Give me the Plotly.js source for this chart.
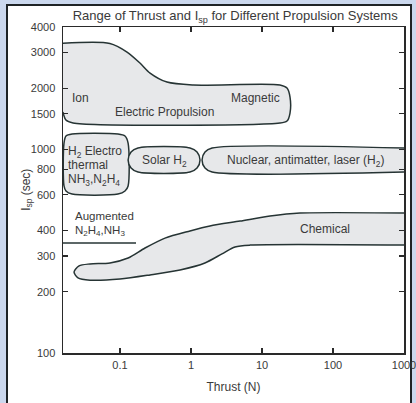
<!DOCTYPE html>
<html>
<head>
<meta charset="utf-8">
<script src="https://cdn.plot.ly/plotly-3.0.1.min.js"></script>
<style>
  html, body { margin: 0; padding: 0; width: 416px; height: 403px; overflow: hidden; background: #cbd8ee; }
  #frame { position: absolute; left: 6px; top: 4px; width: 406px; height: 430px; box-sizing: border-box; border: 2px solid #1e2326; background: #ffffff; }
  #plot { position: absolute; left: 0; top: 0; width: 416px; height: 403px; }
</style>
</head>
<body>
<div id="frame"></div>
<div id="plot"></div>
<script>
// Region outlines: thrust (N) and specific impulse (sec)
const elecT   = [0.0157, 0.072, 0.1256, 0.191, 0.265, 0.459, 1.07, 17.9, 22.5, 24.8, 24.8, 22.5, 17.9, 0.0218, 0.0173, 0.0157];
const elecIsp = [3325, 3320, 3013, 2661, 2376, 2146, 2075, 2075, 2005, 1811, 1511, 1380, 1349, 1349, 1396, 1529];

const thermT   = [0.0211, 0.0937, 0.1176, 0.130, 0.130, 0.1176, 0.0937, 0.0211, 0.01734, 0.01626, 0.01626, 0.01734, 0.0211];
const thermIsp = [1192, 1192, 1165, 1076, 662, 625, 604, 604, 625, 662, 1076, 1165, 1192];

const solarT   = [0.179, 0.968, 1.216, 1.34, 1.216, 0.968, 0.179, 0.143, 0.130, 0.143, 0.179];
const solarIsp = [1017, 1017, 972, 888, 811, 775, 775, 811, 888, 972, 1017];

const nucT   = [1000, 1.98, 1.574, 1.43, 1.574, 1.98, 1000];
const nucIsp = [1017, 1017, 972, 888, 811, 775, 775];

const chemT   = [1000, 34.3, 12.97, 4.90, 1.85, 0.968, 0.430, 0.225, 0.130, 0.0723, 0.0378, 0.0265, 0.0225, 0.0256, 0.0378, 0.1, 0.265, 0.700, 1.57, 2.73, 4.17, 6.78, 1000];
const chemIsp = [487, 487, 471, 445, 421, 398, 367, 328, 293, 277, 274, 268, 250, 234, 228, 231, 242, 256, 277, 307, 332, 339, 339];

const augT   = [0.0157, 0.168];
const augIsp = [347, 347];

// Axis ticks
const xTickVals = [0.1, 1, 10, 100, 1000];
const xTickText = ['0.1', '1', '10', '100', '1000'];
const yTickVals = [100, 200, 300, 400, 600, 800, 1000, 1500, 2000, 3000, 4000];
const yTickText = ['100', '200', '300', '400', '600', '800', '1000', '1500', '2000', '3000', '4000'];

// Region labels
const labelText = ['Ion', 'Magnetic', 'Electric Propulsion', 'H<sub>2</sub> Electro', 'thermal', 'NH<sub>3</sub>,N<sub>2</sub>H<sub>4</sub>',
                   'Solar H<sub>2</sub>', 'Nuclear, antimatter, laser (H<sub>2</sub>)', 'Augmented', 'N<sub>2</sub>H<sub>4</sub>,NH<sub>3</sub>', 'Chemical'];
const labelT   = [0.0200, 8.22, 0.430, 0.0172, 0.0172, 0.0172, 0.430, 40.4, 0.0218, 0.0218, 77.1];
const labelIsp = [1791, 1791, 1528, 973, 839, 708, 877, 877, 472, 396, 406];
const labelSize = [12, 12, 12, 12, 12, 12, 12, 12, 11.5, 11.5, 12];
const labelAnchor = ['left', 'center', 'center', 'left', 'left', 'left', 'center', 'center', 'left', 'left', 'center'];

const FONT = 'Liberation Sans, Arial, Helvetica, sans-serif';
const TXT = '#3a3a3a';
const EDGE = '#263434';
const FILL = '#e7e8ea';

function region(x, y, fill) {
  return {
    x: x, y: y, type: 'scatter', mode: 'lines',
    line: { color: EDGE, width: 1.5, shape: 'spline', smoothing: 0.8 },
    fill: fill ? 'toself' : 'none', fillcolor: FILL,
    hoverinfo: 'skip'
  };
}

const data = [
  region(elecT, elecIsp, true),
  region(thermT, thermIsp, true),
  region(solarT, solarIsp, true),
  region(nucT, nucIsp, true),
  region(chemT, chemIsp, true),
  { x: augT, y: augIsp, type: 'scatter', mode: 'lines', line: { color: EDGE, width: 1.5 }, hoverinfo: 'skip' }
];

const annotations = labelText.map((t, i) => ({
  text: t, x: Math.log10(labelT[i]), y: Math.log10(labelIsp[i]),
  xref: 'x', yref: 'y', showarrow: false, xanchor: labelAnchor[i], yanchor: 'middle',
  font: { family: FONT, size: labelSize[i], color: TXT }
}));

// y-axis title placed as a rotated annotation
annotations.push({
  text: 'I<sub>sp</sub> (sec)', xref: 'paper', yref: 'paper', x: -0.106, y: 0.5,
  xanchor: 'center', yanchor: 'middle', textangle: -90, showarrow: false,
  font: { family: FONT, size: 12, color: TXT }
});

const axisCommon = {
  type: 'log', showgrid: false, zeroline: false,
  showline: true, linecolor: '#2a2a2a', linewidth: 1.5, mirror: 'ticks',
  ticks: 'inside', ticklen: 5, tickwidth: 1.3, tickcolor: '#2a2a2a',
  tickfont: { family: FONT, size: 11, color: TXT },
  ticklabeloverflow: 'allow'
};

const layout = {
  width: 416, height: 403,
  margin: { l: 63, r: 12, t: 27, b: 50 },
  paper_bgcolor: 'rgba(0,0,0,0)', plot_bgcolor: 'rgba(0,0,0,0)',
  showlegend: false,
  title: {
    text: 'Range of Thrust and I<sub>sp</sub> for Different Propulsion Systems',
    font: { family: FONT, size: 13, color: TXT },
    xref: 'paper', x: 0.505, xanchor: 'center',
    yref: 'container', y: 0.962, yanchor: 'middle'
  },
  xaxis: Object.assign({}, axisCommon, {
    range: [-1.803, 3],
    tickvals: xTickVals, ticktext: xTickText,
    ticklabelstandoff: 1,
    title: { text: 'Thrust (N)', font: { family: FONT, size: 12, color: TXT }, standoff: 13 }
  }),
  yaxis: Object.assign({}, axisCommon, {
    range: [2, Math.log10(4000)],
    tickvals: yTickVals, ticktext: yTickText,
    ticklabelstandoff: 4
  }),
  annotations: annotations
};

Plotly.newPlot('plot', data, layout, { staticPlot: true, displayModeBar: false });
</script>
</body>
</html>
